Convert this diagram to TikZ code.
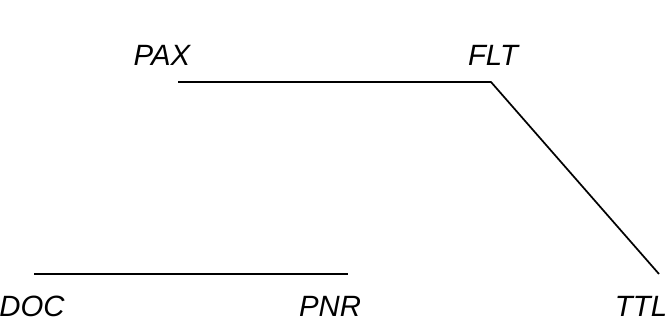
\documentclass[tikz,border=0pt]{standalone}
\usepackage{fontspec}
\setmainfont{Liberation Sans}
\usetikzlibrary{positioning}

\tikzset{
  lbl/.style={font=\fontsize{22}{26}\selectfont\itshape, inner sep=0pt, anchor=base},
  link/.style={line width=1.3pt}
}

\begin{document}
\begin{tikzpicture}[x=0.75pt,y=-0.75pt]
    \useasboundingbox (0,0) rectangle (669,329);

		% labels
		\node[lbl] (pax) at (162,65) {PAX};
		\node[lbl] (flt) at (493,65) {FLT};
		\node[lbl] (doc) at (32,316) {DOC};
		\node[lbl] (pnr) at (330,316) {PNR};
		\node[lbl] (ttl) at (641,316) {TTL};

		\coordinate (P) at (178,82) ;
		\coordinate (F) at (491,82) ;
		\coordinate (T) at (659,274) ;
		\coordinate (D) at (34,274) ;
		\coordinate (N) at (348,274) ;

		\draw[link] (P)--(F)--(T); % PAX - FLT - TTL
		\draw[link] (D)--(N); % DOC - PNR
\end{tikzpicture}
\end{document}
